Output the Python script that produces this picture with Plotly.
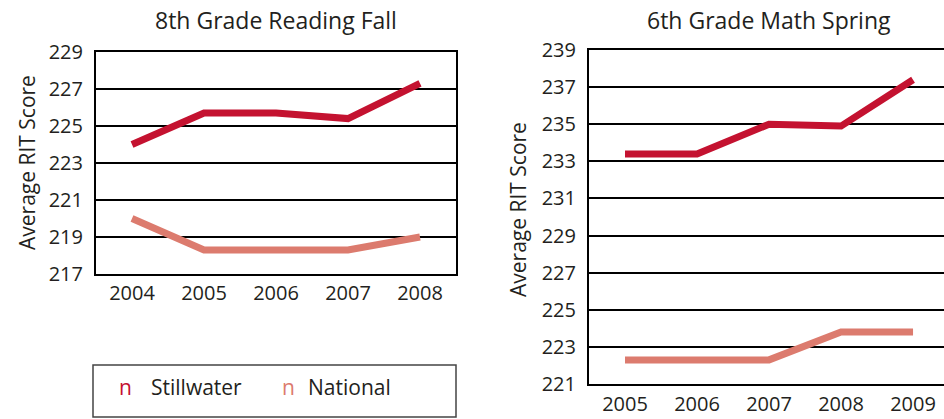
import plotly.graph_objects as go

# ---- data ----
years_reading = ["2004", "2005", "2006", "2007", "2008"]
reading_stillwater = [224.0, 225.7, 225.7, 225.4, 227.3]
reading_national = [220.0, 218.3, 218.3, 218.3, 219.0]

years_math = ["2005", "2006", "2007", "2008", "2009"]
math_stillwater = [233.4, 233.4, 235.0, 234.9, 237.4]
math_national = [222.3, 222.3, 222.3, 223.8, 223.8]

reading_ticks = [217, 219, 221, 223, 225, 227, 229]
math_ticks = [221, 223, 225, 227, 229, 231, 233, 235, 237, 239]

titles = ["8th Grade Reading Fall", "6th Grade Math Spring"]
y_title = "Average RIT Score"
series_names = ["Stillwater", "National"]

# ---- style ----
C_STILL = "#C41230"
C_NAT = "#DC7B6E"
TXT = "#231F20"
FONT = "Open Sans"
W, H = 944, 419

fig = go.Figure()
fig.add_trace(go.Scatter(x=years_reading, y=reading_stillwater, mode="lines",
                         line=dict(color=C_STILL, width=7), xaxis="x", yaxis="y",
                         name=series_names[0], showlegend=False))
fig.add_trace(go.Scatter(x=years_reading, y=reading_national, mode="lines",
                         line=dict(color=C_NAT, width=7), xaxis="x", yaxis="y",
                         name=series_names[1], showlegend=False))
fig.add_trace(go.Scatter(x=years_math, y=math_stillwater, mode="lines",
                         line=dict(color=C_STILL, width=7), xaxis="x2", yaxis="y2",
                         name=series_names[0], showlegend=False))
fig.add_trace(go.Scatter(x=years_math, y=math_national, mode="lines",
                         line=dict(color=C_NAT, width=7), xaxis="x2", yaxis="y2",
                         name=series_names[1], showlegend=False))


def px_x(x):
    return x / W


def px_y(y):
    return (H - y) / H


tickfont = dict(family=FONT, size=20, color=TXT)

fig.update_layout(
    width=W, height=H,
    margin=dict(l=0, r=0, t=0, b=0, autoexpand=False),
    paper_bgcolor="white", plot_bgcolor="white",
    showlegend=False,
    xaxis=dict(domain=[px_x(96), px_x(456)], type="category", range=[-0.5, 4.5],
               showgrid=False, showline=True, linecolor="black", linewidth=2,
               mirror=True, ticks="", tickfont=tickfont, anchor="y", ticklabelstandoff=0),
    yaxis=dict(domain=[px_y(274), px_y(52)], range=[217, 229], tickvals=reading_ticks,
               showgrid=True, gridcolor="black", gridwidth=2, zeroline=False,
               showline=True, linecolor="black", linewidth=2, mirror=True,
               ticks="", tickfont=tickfont, anchor="x", ticklabelstandoff=7),
    xaxis2=dict(domain=[px_x(589), 1.0], type="category", range=[-0.5, 4.43],
                showgrid=False, showline=True, linecolor="black", linewidth=2,
                mirror=True, ticks="", tickfont=tickfont, anchor="y2", ticklabelstandoff=1),
    yaxis2=dict(domain=[px_y(384), px_y(50)], range=[221, 239], tickvals=math_ticks,
                showgrid=True, gridcolor="black", gridwidth=2, zeroline=False,
                showline=True, linecolor="black", linewidth=2,
                ticks="", tickfont=tickfont, anchor="x2", ticklabelstandoff=7),
)

common = dict(xref="paper", yref="paper", showarrow=False,
              xanchor="center", yanchor="middle")
ann = []
ann.append(dict(text=titles[0], x=px_x(276), y=px_y(20),
                font=dict(family=FONT, size=23, color=TXT), **common))
ann.append(dict(text=titles[1], x=px_x(769), y=px_y(20),
                font=dict(family=FONT, size=23, color=TXT), **common))
ann.append(dict(text=y_title, x=px_x(27), y=px_y(163), textangle=-90,
                font=dict(family=FONT, size=21, color=TXT), **common))
ann.append(dict(text=y_title, x=px_x(518), y=px_y(210), textangle=-90,
                font=dict(family=FONT, size=21, color=TXT), **common))

leg = dict(xref="paper", yref="paper", showarrow=False, xanchor="left", yanchor="middle")
ann.append(dict(text="n", x=px_x(117), y=px_y(387),
                font=dict(family=FONT, size=21, color=C_STILL), **leg))
ann.append(dict(text=series_names[0], x=px_x(149), y=px_y(387),
                font=dict(family=FONT, size=21, color=TXT), **leg))
ann.append(dict(text="n", x=px_x(280), y=px_y(387),
                font=dict(family=FONT, size=21, color=C_NAT), **leg))
ann.append(dict(text=series_names[1], x=px_x(306), y=px_y(387),
                font=dict(family=FONT, size=21, color=TXT), **leg))
fig.update_layout(annotations=ann)

fig.add_shape(type="rect", xref="paper", yref="paper",
              x0=px_x(93), x1=px_x(456), y0=px_y(417), y1=px_y(365),
              line=dict(color="#444444", width=1.5), fillcolor="rgba(0,0,0,0)")

fig.write_html("out.html", config={"displayModeBar": False},
               post_script="document.body.style.margin='0';")
